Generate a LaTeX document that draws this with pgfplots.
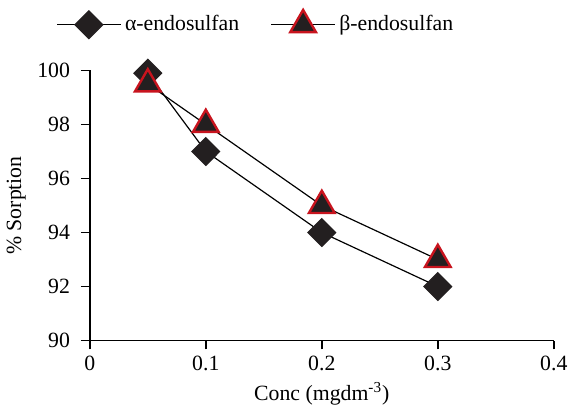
\documentclass[border=0pt]{standalone}
\usepackage{fontspec}
\setmainfont{Liberation Serif}
\usepackage{pgfplots}
\pgfplotsset{compat=1.18}
\definecolor{mkred}{RGB}{200,20,30}
\definecolor{mkfill}{RGB}{35,31,32}

\begin{document}
\begin{tikzpicture}
\begin{axis}[
    scale only axis,
    width=234.5pt, height=136.5pt,
    xmin=0, xmax=0.4, ymin=90, ymax=100,
    xtick={0,0.1,0.2,0.3,0.4},
    ytick={90,92,94,96,98,100},
    xticklabels={0,0.1,0.2,0.3,0.4},
    axis lines=left,
    axis line style={-, line width=0.8pt},
    tick align=outside,
    major tick length=4.5pt,
    tick style={line width=0.8pt, black},
    font=\fontsize{11}{13}\selectfont,
    /pgf/number format/assume math mode=true,
    yticklabel style={xshift=-2pt},
    xlabel={Conc (mgdm\textsuperscript{-3})},
    ylabel={\% Sorption},
    xlabel style={yshift=1pt},
    ylabel style={yshift=-1pt},
    clip=false,
    legend style={draw=none, fill=none, at={(0.36,1.08)}, anchor=south,
        inner ysep=5pt,
        legend columns=2, font=\fontsize{11}{13}\selectfont,
        /tikz/every even column/.append style={column sep=14pt}},
    legend image code/.code={
        \draw[#1, mark=none] (0cm,0cm) -- (32pt,0cm);
        \draw[#1, only marks] plot coordinates {(16pt,0cm)};
    },
]
\addplot[black, line width=0.6pt, mark=diamond*, mark size=7pt,
    mark options={solid, fill=mkfill, draw=mkfill, xscale=1.333}]
    coordinates {(0.05,99.9) (0.1,97) (0.2,94) (0.3,92)};
\addlegendentry{α-endosulfan}
\addplot[black, line width=0.6pt, mark=triangle*, mark size=7.5pt,
    mark options={solid, fill=mkfill, draw=mkred, line width=1.2pt}]
    coordinates {(0.05,99.5) (0.1,98) (0.2,95) (0.3,93)};
\addlegendentry{β-endosulfan}
\end{axis}
\end{tikzpicture}
\end{document}
